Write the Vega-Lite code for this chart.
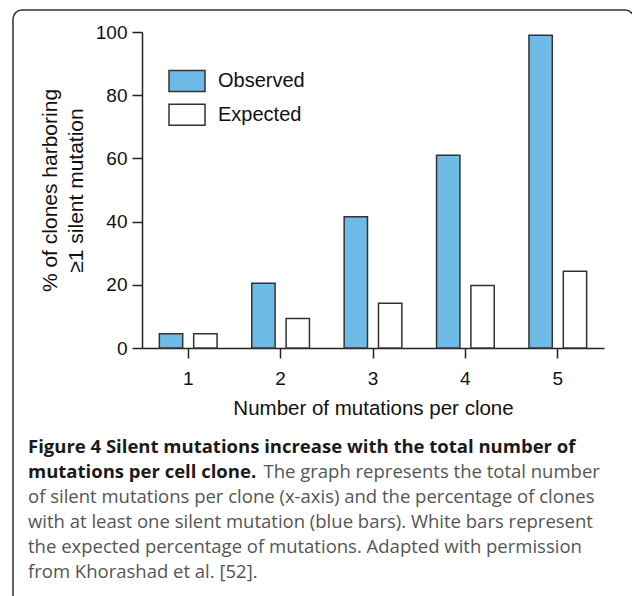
{
  "$schema": "https://vega.github.io/schema/vega-lite/v6.json",
  "autosize": {"type": "none"},
  "padding": {"left": 13, "top": 10, "right": 0, "bottom": 0},
  "width": 621,
  "height": 600,
  "background": "white",
  "config": {
    "view": {"stroke": "#333333", "strokeWidth": 1.5, "cornerRadius": 9},
    "font": "Liberation Sans"
  },
  "title": {
    "text": ["Figure 4 Silent mutations increase with the total number of", "mutations per cell clone."],
    "subtitle": [
      "\u200b\u00a0\u00a0\u00a0\u00a0\u00a0\u00a0\u00a0\u00a0\u00a0\u00a0\u00a0\u00a0\u00a0\u00a0\u00a0\u00a0\u00a0\u00a0\u00a0\u00a0\u00a0\u00a0\u00a0\u00a0\u00a0\u00a0\u00a0\u00a0\u00a0\u00a0\u00a0\u00a0\u00a0\u00a0\u00a0\u00a0\u00a0\u00a0\u00a0\u00a0\u00a0\u00a0\u00a0\u00a0\u00a0\u00a0\u00a0\u00a0\u00a0The graph represents the total number",
      "of silent mutations per clone (x-axis) and the percentage of clones",
      "with at least one silent mutation (blue bars). White bars represent",
      "the expected percentage of mutations. Adapted with permission",
      "from Khorashad et al. [52]."
    ],
    "orient": "bottom",
    "anchor": "start",
    "frame": "bounds",
    "offset": -172,
    "dx": 15,
    "font": "Open Sans",
    "fontSize": 18.5,
    "fontWeight": "bold",
    "color": "#1a1a1a",
    "lineHeight": 25,
    "subtitleFont": "Open Sans",
    "subtitleFontSize": 18.5,
    "subtitleColor": "#555555",
    "subtitleLineHeight": 25,
    "subtitlePadding": -19
  },
  "data": {
    "values": [
      {"n": "1", "type": "Observed", "value": 4.5},
      {"n": "1", "type": "Expected", "value": 4.5},
      {"n": "2", "type": "Observed", "value": 20.5},
      {"n": "2", "type": "Expected", "value": 9.3},
      {"n": "3", "type": "Observed", "value": 41.5},
      {"n": "3", "type": "Expected", "value": 14.2},
      {"n": "4", "type": "Observed", "value": 61},
      {"n": "4", "type": "Expected", "value": 19.8},
      {"n": "5", "type": "Observed", "value": 99},
      {"n": "5", "type": "Expected", "value": 24.3}
    ]
  },
  "mark": {"type": "bar", "stroke": "#333333", "strokeWidth": 1.5},
  "encoding": {
    "x": {
      "field": "n",
      "type": "ordinal",
      "scale": {"range": [129, 591], "paddingInner": 0, "paddingOuter": 0},
      "axis": {
        "orient": "bottom",
        "offset": -262,
        "title": "Number of mutations per clone",
        "titleFontSize": 20.5,
        "titleFontWeight": "normal",
        "titleColor": "#111111",
        "titlePadding": 10,
        "labelAngle": 0,
        "labelFontSize": 19,
        "labelColor": "#111111",
        "labelPadding": 11,
        "tickSize": 10,
        "tickWidth": 1.5,
        "tickColor": "#222222",
        "domainColor": "#222222",
        "domainWidth": 1.5,
        "grid": false
      }
    },
    "xOffset": {
      "field": "type",
      "type": "nominal",
      "sort": ["Observed", "Expected"],
      "scale": {"domain": ["Observed", "Expected"], "paddingInner": 0.32, "paddingOuter": 0.505}
    },
    "y": {
      "field": "value",
      "type": "quantitative",
      "scale": {"domain": [0, 100], "range": [338, 22], "nice": false, "zero": true},
      "axis": {
        "orient": "left",
        "offset": -129,
        "values": [0, 20, 40, 60, 80, 100],
        "title": ["% of clones harboring", "≥1 silent mutation"],
        "titleFontSize": 21,
        "titleFontWeight": "normal",
        "titleColor": "#111111",
        "titleLineHeight": 26,
        "titlePadding": 9,
        "labelFontSize": 19,
        "labelColor": "#111111",
        "labelPadding": 5,
        "tickSize": 10,
        "tickWidth": 1.5,
        "tickColor": "#222222",
        "domainColor": "#222222",
        "domainWidth": 1.5,
        "grid": false
      }
    },
    "fill": {
      "field": "type",
      "type": "nominal",
      "scale": {"domain": ["Observed", "Expected"], "range": ["#6dbbe6", "#ffffff"]},
      "legend": {
        "orient": "none",
        "legendX": 155,
        "legendY": 52,
        "title": null,
        "padding": 0,
        "symbolType": "M-1,-0.583H1V0.583H-1Z",
        "symbolSize": 1296,
        "symbolStrokeColor": "#333333",
        "symbolStrokeWidth": 1.5,
        "symbolOpacity": 1,
        "labelFontSize": 20,
        "labelColor": "#111111",
        "labelOffset": 12,
        "rowPadding": 0.8
      }
    }
  }
}
